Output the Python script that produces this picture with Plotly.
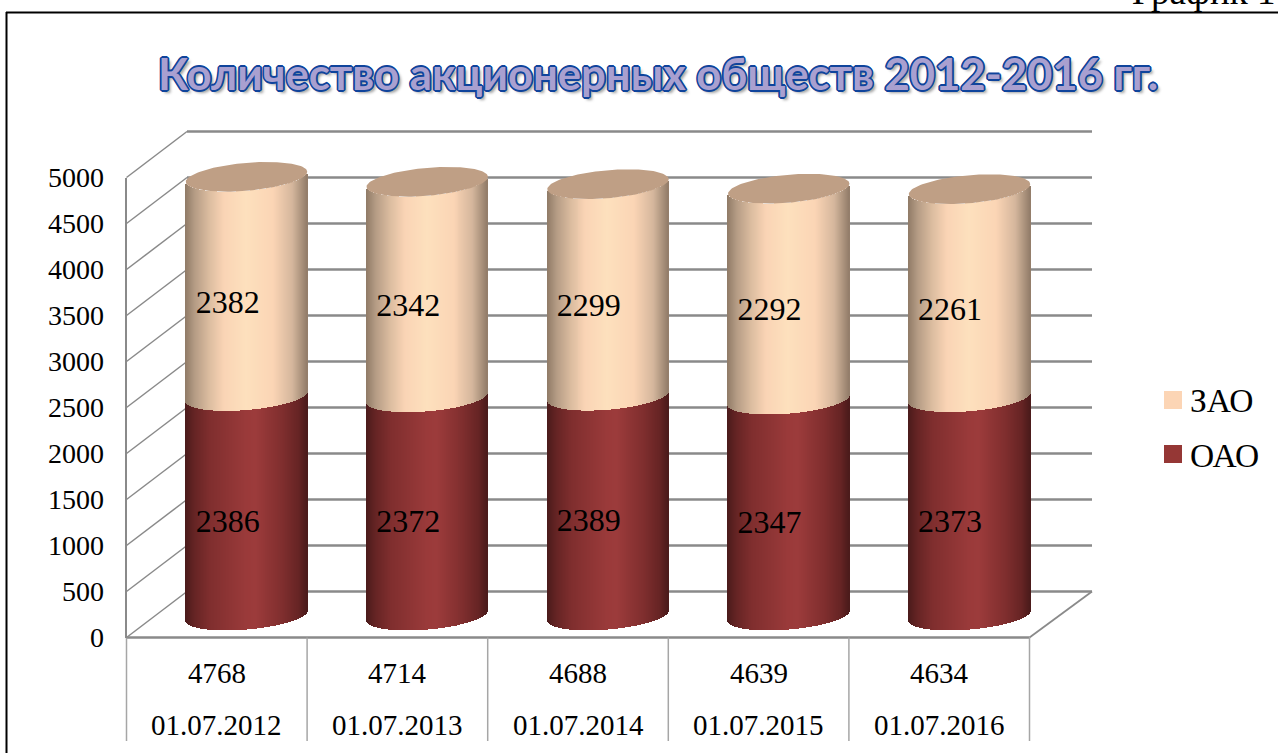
import math
import plotly.graph_objects as go

# ---- data ----
dates = ["01.07.2012", "01.07.2013", "01.07.2014", "01.07.2015", "01.07.2016"]
totals = [4768, 4714, 4688, 4639, 4634]
oao = [2386, 2372, 2389, 2347, 2373]
zao = [2382, 2342, 2299, 2292, 2261]
series_names = ["ЗАО", "ОАО"]
y_ticks = [0, 500, 1000, 1500, 2000, 2500, 3000, 3500, 4000, 4500, 5000]
title_text = "Количество акционерных обществ 2012-2016 гг."
corner_text = "График 1"

# ---- geometry (page pixels) ----
W, H = 1278, 753
PX_PER_UNIT = 0.092
FRONT_L, FRONT_R = 126.5, 1029.5
FRONT_ZERO, FRONT_TOP = 637.5, 177.5
BACK_DX = 60.5
BACK_DV = 500           # depth of the walls, in value units
BACK_R = 1092
CYL_X0, CYL_STEP, CYL_A = 246.5, 180.75, 60.75
CYL_BASE = 615.5
FRONT_OFF = (FRONT_ZERO - CYL_BASE) / PX_PER_UNIT
ELL_B, ELL_TILT = 14.0, 5.0
N_STRIPS = 122
SERIF = "Liberation Serif"
GRID = "#8a8a8a"

OAO_STOPS = [(0, "#4a1a1a"), (.08, "#662424"), (.2, "#7f2e2e"), (.5, "#9a3a3a"), (.58, "#9c3b3b"),
             (.8, "#7f2e2e"), (.93, "#662424"), (1, "#4a1a1a")]
ZAO_STOPS = [(0, "#8f7a66"), (.08, "#b59c85"), (.2, "#dcbda0"), (.32, "#fad4b5"), (.5, "#fde0bd"),
             (.72, "#fbd5b5"), (.88, "#d4b69c"), (1, "#927c69")]
TOP_COLOR = "#bf9f85"
SWATCH = {"ЗАО": "#fcd5b5", "ОАО": "#953735"}


def shade(stops, t):
    for (t0, c0), (t1, c1) in zip(stops, stops[1:]):
        if t <= t1:
            f = (t - t0) / (t1 - t0)
            a = [int(c0[k:k + 2], 16) for k in (1, 3, 5)]
            b = [int(c1[k:k + 2], 16) for k in (1, 3, 5)]
            return "rgb(%d,%d,%d)" % tuple(round(p + (q - p) * f) for p, q in zip(a, b))
    return stops[-1][1]


def px(x):
    return x / W


def py(y):
    return 1 - y / H


us = [-1 + (2 * k + 1) / N_STRIPS for k in range(N_STRIPS)]
step_idx = 2 * CYL_A / N_STRIPS / CYL_STEP
a_idx = CYL_A / CYL_STEP


def arc(u):
    """Lower edge of the tilted ellipse, in value units relative to its centre."""
    return (ELL_TILT * u - ELL_B * math.sqrt(max(0, 1 - u * u))) / PX_PER_UNIT


def segment(name, starts, values, stops):
    xs, ys, bases, colors = [], [], [], []
    for i, (s, v) in enumerate(zip(starts, values)):
        for u in us:
            xs.append(i + u * a_idx)
            ys.append(v)
            bases.append(s + arc(u))
            colors.append(shade(stops, (u + 1) / 2))
    return go.Bar(x=xs, y=ys, base=bases, width=step_idx * 1.25, name=name,
                  marker=dict(color=colors, line=dict(width=0)), hoverinfo="skip",
                  showlegend=False, xaxis="x", yaxis="y")


fig = go.Figure()
fig.add_trace(segment("ОАО", [0] * 5, oao, OAO_STOPS))
fig.add_trace(segment("ЗАО", oao, zao, ZAO_STOPS))

# tops of the cylinders
ex, ey = [], []
for i, (a, b) in enumerate(zip(oao, zao)):
    for k in range(121):
        th = 2 * math.pi * k / 120
        u = math.cos(th)
        ex.append(i + u * a_idx)
        ey.append(a + b + (ELL_TILT * u + ELL_B * math.sin(th)) / PX_PER_UNIT)
    ex.append(None)
    ey.append(None)
fig.add_trace(go.Scatter(x=ex, y=ey, mode="lines", fill="toself", fillcolor=TOP_COLOR,
                         line=dict(width=0, color=TOP_COLOR), hoverinfo="skip", showlegend=False,
                         xaxis="x", yaxis="y", cliponaxis=False))

# value labels, on the front axes
lx = [i + 0.06 for i in range(5)] * 2
ly = [a / 2 + 45 for a in oao] + [a + b / 2 + 40 for a, b in zip(oao, zao)]
fig.add_trace(go.Scatter(x=lx, y=ly, text=[str(v) for v in oao + zao], mode="text",
                         textfont=dict(family=SERIF, size=32, color="black"), textposition="middle center",
                         hoverinfo="skip", showlegend=False, xaxis="x2", yaxis="y2", cliponaxis=False))

# ---- walls, grid, table, frame ----
shapes = []


def line(x0, y0, x1, y1, color=GRID, width=2.2, yref="paper"):
    shapes.append(dict(type="line", layer="below", xref="paper", yref=yref, x0=x0, y0=y0, x1=x1, y1=y1,
                       line=dict(color=color, width=width)))


def wall(v):
    """A wall height on the full-page value axis, so the back wall above 5000 is not clipped."""
    return v - FRONT_OFF


for v in y_ticks:
    line(px(FRONT_L), wall(v), px(FRONT_L + BACK_DX), wall(v + BACK_DV), width=1.5, yref="y")
    line(px(FRONT_L + BACK_DX), wall(v + BACK_DV), px(BACK_R), wall(v + BACK_DV), width=2.6, yref="y")
line(px(FRONT_R), wall(0), px(BACK_R), wall(BACK_DV), width=1.8, yref="y")
line(px(FRONT_L), wall(0), px(FRONT_R), wall(0), width=2.6, yref="y")
for i in range(6):
    line(px(FRONT_L + i * (FRONT_R - FRONT_L) / 5), py(FRONT_ZERO), px(FRONT_L + i * (FRONT_R - FRONT_L) / 5), py(741),
         color="#a6a6a6", width=1.5)
line(px(6.5), py(12), px(6.5), py(H), color="black", width=2)
line(px(6), py(12.5), px(W), py(12.5), color="black", width=2)
# legend swatches
for name, top in zip(series_names, (391, 445)):
    shapes.append(dict(type="rect", layer="above", xref="paper", yref="paper", x0=px(1164), x1=px(1182),
                       y0=py(top), y1=py(top + 18), fillcolor=SWATCH[name], line=dict(width=0)))

ann = []
for i, (t, d) in enumerate(zip(totals, dates)):
    ann.append(dict(text=str(t), xref="x2", x=i, yref="paper", y=py(673), showarrow=False,
                    font=dict(family=SERIF, size=29, color="black"), yanchor="middle", xanchor="center"))
    ann.append(dict(text=d, xref="x2", x=i, yref="paper", y=py(725), showarrow=False,
                    font=dict(family=SERIF, size=29, color="black"), yanchor="middle", xanchor="center"))
for name, yc in zip(series_names, (400, 455)):
    ann.append(dict(text=name, xref="paper", x=px(1188), yref="paper", y=py(yc), showarrow=False, xanchor="left",
                    yanchor="middle", font=dict(family=SERIF, size=33.5, color="black")))
ann.append(dict(text=corner_text, xref="paper", x=px(1130), yref="paper", y=py(-9), showarrow=False, xanchor="left",
                yanchor="middle", font=dict(family=SERIF, size=37, color="black")))
o = "#0f449c"
outline = ",".join("%spx %spx 0 %s" % (a, b, o) for a, b in
                   [(1.7, 0), (-1.7, 0), (0, 1.7), (0, -1.7), (1.2, 1.2), (-1.2, 1.2), (1.2, -1.2), (-1.2, -1.2)])
ann.append(dict(text="<b>%s</b>" % title_text, xref="paper", x=px(658), yref="paper", y=py(73), showarrow=False,
                xanchor="center", yanchor="middle",
                font=dict(family="Lato", size=43.6, color="#a9a0d0",
                          shadow=outline + ",3px 3px 3px #a0a0a0")))

fig.update_layout(
    width=W, height=H, margin=dict(l=0, r=0, t=0, b=0, autoexpand=False), autosize=False,
    paper_bgcolor="white", plot_bgcolor="rgba(0,0,0,0)", barmode="overlay", bargap=0,
    showlegend=False, shapes=shapes, annotations=ann,
    font=dict(family=SERIF, color="black"),
    xaxis=dict(domain=[0, 1], range=[-CYL_X0 / CYL_STEP, (W - CYL_X0) / CYL_STEP], visible=False),
    yaxis=dict(domain=[0, 1], range=[(CYL_BASE - H) / PX_PER_UNIT, CYL_BASE / PX_PER_UNIT], visible=False),
    xaxis2=dict(domain=[FRONT_L / W, FRONT_R / W], range=[-.5, 4.5], anchor="y2", visible=False),
    yaxis2=dict(domain=[1 - FRONT_ZERO / H, 1 - FRONT_TOP / H], range=[0, 5000], anchor="x2",
                tickvals=y_ticks, ticks="outside", ticklen=15, tickcolor="rgba(0,0,0,0)", showgrid=False,
                zeroline=False, showline=True, linecolor=GRID, linewidth=2,
                tickfont=dict(family=SERIF, size=28, color="black")),
)
fig.write_html("out.html", config={"displayModeBar": False},
               post_script="document.body.style.margin='0';")
